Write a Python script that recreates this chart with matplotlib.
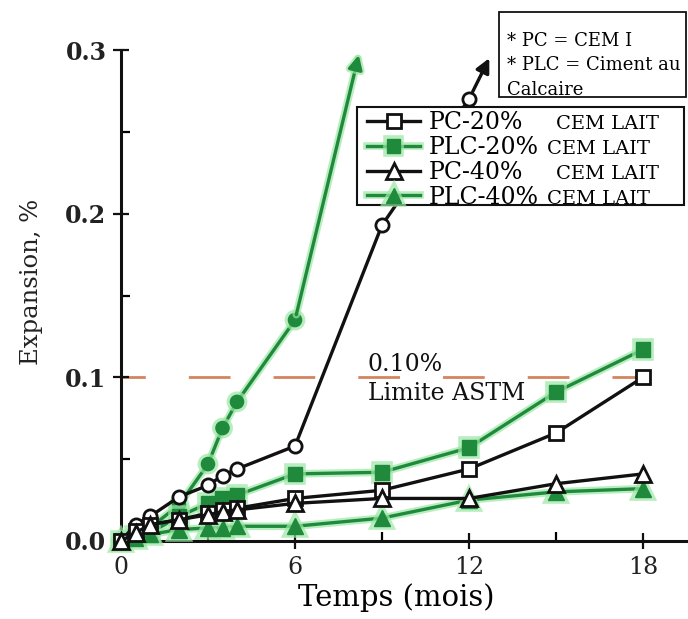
import matplotlib
matplotlib.use("Agg")
import matplotlib.pyplot as plt
import matplotlib.patheffects as pe
from matplotlib.patches import Rectangle

plt.rcParams['font.family'] = ['DejaVu Serif']

# ---------------- data ----------------
months = [0, 0.5, 1, 2, 3, 3.5, 4, 6, 9, 12, 15, 18]
pc20 = [0, 0.006, 0.010, 0.013, 0.017, 0.019, 0.020, 0.026, 0.031, 0.044, 0.066, 0.100]
plc20 = [0, 0.003, 0.005, 0.015, 0.023, 0.026, 0.028, 0.041, 0.042, 0.057, 0.091, 0.117]
pc40 = [0, 0.005, 0.010, 0.013, 0.016, 0.018, 0.019, 0.023, 0.026, 0.026, 0.035, 0.041]
plc40 = [0, 0.002, 0.004, 0.007, 0.008, 0.008, 0.009, 0.009, 0.014, 0.025, 0.030, 0.032]

months_pc_cem = [0, 0.5, 1, 2, 3, 3.5, 4, 6, 9, 12]
pc_cem = [0, 0.010, 0.015, 0.027, 0.034, 0.040, 0.044, 0.058, 0.193, 0.270]
pc_cem_arrow = (12.7, 0.295)

months_plc_cem = [0, 0.5, 1, 2, 3, 3.5, 4, 6]
plc_cem = [0, 0.004, 0.008, 0.022, 0.047, 0.069, 0.085, 0.135]
plc_cem_arrow = (8.2, 0.297)

limit_value = 0.10
limit_labels = ['0.10%', 'Limite ASTM']
legend_labels = ['PC-20%', 'PLC-20%', 'PC-40%', 'PLC-40%']
legend_suffix = 'CEM LAIT'
note_lines = ['* PC = CEM I', '* PLC = Ciment au', 'Calcaire']
xticks = [0, 6, 12, 18]
xminor = [3, 9, 15]
yticks = [0.0, 0.1, 0.2, 0.3]
yminor = [0.05, 0.15, 0.25]
ytick_labels = ['0.0', '0.1', '0.2', '0.3']
xlabel = 'Temps (mois)'
ylabel = 'Expansion, %'

# ---------------- style ----------------
W, H = 688, 619
GREEN = '#208a3c'
HALO = '#9be8a4'
BLACK = '#111111'
DASH = '#d4845e'

fig = plt.figure(figsize=(W / 100, H / 100), dpi=100)
x0_px, y0_px, ytop_px = 121, 541, 50
ax = fig.add_axes([x0_px / W, 1 - y0_px / H, 1 - x0_px / W, (y0_px - ytop_px) / H])
px_per_month = 29.0
ax.set_xlim(0, (W - x0_px) / px_per_month)
ax.set_ylim(0, 0.3)

halo = [pe.Stroke(linewidth=5.5, foreground=HALO, alpha=0.7), pe.Normal()]

# limit line
lw_d = 2.0
ax.plot([0, 18], [limit_value, limit_value], color=DASH, lw=lw_d, zorder=1.5,
        linestyle=(12.5 / lw_d, (30 / lw_d, 31 / lw_d)), dash_capstyle='butt')
ax.text(8.5, limit_value + 0.004, limit_labels[0], fontsize=17, color=BLACK, va='baseline', zorder=3)
ax.text(8.5, limit_value - 0.014, limit_labels[1], fontsize=17, color=BLACK, va='baseline', zorder=3)

# PC / PLC reference series (circles) with arrows
ax.plot(months_plc_cem, plc_cem, color=GREEN, lw=2.4, marker='o', ms=9.5, mfc=GREEN, mec=GREEN,
        zorder=3, path_effects=halo, clip_on=False)
ax.annotate('', xy=plc_cem_arrow, xytext=(months_plc_cem[-1], plc_cem[-1]),
            arrowprops=dict(arrowstyle='-|>,head_length=0.6,head_width=0.3', color=GREEN, lw=2.4,
                            shrinkA=4, shrinkB=0, mutation_scale=14, path_effects=halo),
            annotation_clip=False, zorder=3)

ax.plot(months_pc_cem, pc_cem, color=BLACK, lw=2.4, marker='o', ms=9.5, mfc='white', mec=BLACK,
        mew=2.0, zorder=4, clip_on=False)
ax.annotate('', xy=pc_cem_arrow, xytext=(months_pc_cem[-1], pc_cem[-1]),
            arrowprops=dict(arrowstyle='-|>,head_length=0.6,head_width=0.3', color=BLACK, lw=2.4,
                            shrinkA=6, shrinkB=0, mutation_scale=14),
            annotation_clip=False, zorder=4)

l_plc20, = ax.plot(months, plc20, color=GREEN, lw=2.4, marker='s', ms=10.5, mfc=GREEN, mec=GREEN,
                   zorder=3.2, path_effects=halo, clip_on=False)
l_pc20, = ax.plot(months, pc20, color=BLACK, lw=2.4, marker='s', ms=10.5, mfc='white', mec=BLACK,
                  mew=2.0, zorder=4.2, clip_on=False)
l_plc40, = ax.plot(months, plc40, color=GREEN, lw=2.4, marker='^', ms=11.5, mfc=GREEN, mec=GREEN,
                   zorder=3.3, path_effects=halo, clip_on=False)
l_pc40, = ax.plot(months, pc40, color=BLACK, lw=2.4, marker='^', ms=11.5, mfc='white', mec=BLACK,
                  mew=2.0, zorder=4.3, clip_on=False)

# axes styling
for s in ['top', 'right']:
    ax.spines[s].set_visible(False)
for s in ['left', 'bottom']:
    ax.spines[s].set_linewidth(2.2)
    ax.spines[s].set_color(BLACK)
ax.spines['left'].set_bounds(0, 0.3)

ax.set_xticks(xticks)
ax.set_xticklabels([str(t) for t in xticks], fontsize=17)
ax.set_xticks(xminor, minor=True)
ax.set_yticks(yticks)
ax.set_yticklabels(ytick_labels, fontsize=17, fontweight='bold')
ax.set_yticks(yminor, minor=True)
ax.tick_params(axis='x', which='major', direction='inout', length=11, width=1.6, pad=5, colors=BLACK)
ax.tick_params(axis='x', which='minor', direction='in', length=6.5, width=1.6)
ax.tick_params(axis='y', which='major', direction='inout', length=11, width=1.6, pad=5, colors=BLACK)
ax.tick_params(axis='y', which='minor', direction='in', length=6.5, width=1.6)
for t in ax.get_xticklabels() + ax.get_yticklabels():
    t.set_color('#222222')

ax.set_xlabel(xlabel, fontsize=21, va='baseline')
ax.xaxis.set_label_coords((396 - x0_px) / (W - x0_px), (y0_px - 606) / (y0_px - ytop_px))
ax.set_ylabel(ylabel, fontsize=17.5, va='center', color='#222222')
ax.yaxis.set_label_coords((32 - x0_px) / (W - x0_px), (y0_px - 282) / (y0_px - ytop_px))

# note box
fig.add_artist(Rectangle((499 / W, 1 - 97 / H), (686 - 499) / W, 85 / H, transform=fig.transFigure,
                         facecolor='white', edgecolor=BLACK, lw=1.3, zorder=4))
for txt, base in zip(note_lines, [46, 70, 95]):
    fig.text(507 / W, 1 - base / H, txt, fontsize=13, va='baseline', ha='left', zorder=5)

# legend
fig.add_artist(Rectangle((357 / W, 1 - 205 / H), (684 - 357) / W, 98 / H, transform=fig.transFigure,
                         facecolor='white', edgecolor=BLACK, lw=1.5, zorder=4))
leg = fig.legend([l_pc20, l_plc20, l_pc40, l_plc40], legend_labels, loc='upper left',
                 bbox_to_anchor=(367 / W, 1 - 111 / H), bbox_transform=fig.transFigure,
                 frameon=False, fontsize=17, handlelength=2.25, handletextpad=0.35,
                 labelspacing=0.08, borderpad=0, borderaxespad=0, markerscale=0.95)
leg.set_zorder(5)

fig.canvas.draw()
renderer = fig.canvas.get_renderer()
suffix_x = [556, 547, 556, 547]
for t, sx in zip(leg.get_texts(), suffix_x):
    bb = t.get_window_extent(renderer)
    fp = t.get_fontproperties()
    _, _, desc = renderer.get_text_width_height_descent('lp', fp, ismath=False)
    base = bb.y0 + desc
    fig.text(sx / W, base / H, legend_suffix, fontsize=14, va='baseline', ha='left', zorder=6)

fig.savefig('out.png', dpi=100)
